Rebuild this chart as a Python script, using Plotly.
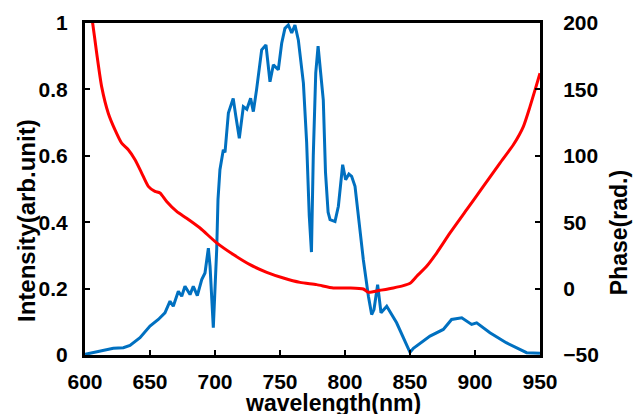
import plotly.graph_objects as go

# Intensity spectrum (blue, left axis)
blue_nm = [600, 611.5, 621.8, 629.5, 634.6, 642.3, 650, 656.4, 661.5, 665.4, 667.9, 671.8,
           674.4, 676.9, 680.8, 683.3, 686.4, 689.8, 692.3, 694.9, 696.2, 698.7, 701.3,
           702.3, 703.8, 706.4, 707.7, 710.3, 714, 716, 718.7, 721.8, 724.5, 727.4, 729.5,
           732, 735.9, 739.2, 742.3, 744.9, 748.7, 751.3, 753.8, 756.4, 759, 761.5, 764.1,
           768, 770.5, 772.5, 774.2, 775.6, 777.5, 779.3, 781, 783.3, 785, 787, 788.5,
           792.3, 794.9, 798.2, 800.5, 803, 805.1, 807.7, 811.5, 814.1, 818, 820.5, 822.3,
           825.1, 827.7, 832.1, 839.7, 850, 852.6, 865.4, 875.6, 882, 889.8, 897.4, 901.3,
           911.5, 924, 939.7, 950]
blue_int = [0.002, 0.011, 0.02, 0.022, 0.029, 0.052, 0.087, 0.107, 0.127, 0.162, 0.147, 0.192,
            0.177, 0.207, 0.182, 0.207, 0.179, 0.227, 0.247, 0.322, 0.267, 0.082, 0.317,
            0.468, 0.558, 0.618, 0.61, 0.729, 0.773, 0.72, 0.653, 0.748, 0.74, 0.773, 0.733,
            0.8, 0.919, 0.934, 0.823, 0.874, 0.859, 0.939, 0.984, 0.994, 0.97, 0.994, 0.949,
            0.819, 0.64, 0.42, 0.31, 0.6, 0.85, 0.93, 0.86, 0.768, 0.55, 0.43, 0.408,
            0.402, 0.448, 0.573, 0.528, 0.545, 0.538, 0.508, 0.377, 0.287, 0.177, 0.122, 0.137,
            0.212, 0.127, 0.147, 0.097, 0.008, 0.02, 0.057, 0.077, 0.107, 0.112, 0.092, 0.097,
            0.067, 0.037, 0.007, 0.005]

# Phase (red, right axis)
red_nm = [600, 605.9, 609, 612.8, 617.9, 623.1, 628.2, 633.3, 638.5, 643.6, 648.7, 653.8,
          657.7, 662.8, 670.5, 678.2, 688.5, 701.3, 714.1, 726.9, 739.8, 752.6, 765.4,
          778.2, 791, 803.8, 814.1, 818, 826.9, 837.2, 844.9, 850, 855.2, 862.8, 870.5,
          880.8, 893.6, 906.4, 919.2, 929.5, 937.2, 942.3, 946.2, 950]
red_phase = [235, 199.8, 177.2, 152.1, 132.1, 119.5, 109.5, 104.5, 97, 87, 77, 73.2,
             72, 65.6, 58.1, 53, 45.6, 34.4, 25.6, 18, 12.3, 8, 4.7,
             3, 0.5, 0.5, -0.3, -2.8, -1.3, 0.5, 2.2, 4, 9.3, 16.8, 26.8,
             41.9, 59.4, 76.9, 94.5, 108.3, 122, 137, 149.6, 162.2]

x_ticks = [600, 650, 700, 750, 800, 850, 900, 950]
y_ticks = [0, 0.2, 0.4, 0.6, 0.8, 1]
y_ticktext = ["0", "0.2", "0.4", "0.6", "0.8", "1"]
y2_ticks = [-50, 0, 50, 100, 150, 200]

FONT = "Arial, Liberation Sans, sans-serif"
tickfont = dict(family=FONT, size=21, color="black", weight="bold")

fig = go.Figure()
fig.add_trace(go.Scatter(x=blue_nm, y=blue_int, mode="lines",
                         line=dict(color="#0070C0", width=3), yaxis="y"))
fig.add_trace(go.Scatter(x=red_nm, y=red_phase, mode="lines",
                         line=dict(color="#FF0000", width=3, shape="spline", smoothing=0.6),
                         yaxis="y2"))

fig.update_layout(
    width=634, height=414,
    margin=dict(l=85, r=94, t=23, b=59),
    paper_bgcolor="white", plot_bgcolor="white",
    showlegend=False,
    xaxis=dict(range=[600, 950], tickvals=x_ticks, ticks="inside", ticklen=5, tickwidth=2,
               tickcolor="black", showline=True, linewidth=3, linecolor="black", mirror=True,
               showgrid=False, zeroline=False, tickfont=tickfont, ticklabelstandoff=6),
    yaxis=dict(range=[0, 1], tickvals=y_ticks, ticktext=y_ticktext, ticks="inside", ticklen=5,
               tickwidth=2, tickcolor="black", showline=True, linewidth=3, linecolor="black",
               showgrid=False, zeroline=False, tickfont=tickfont, ticklabelstandoff=10),
    yaxis2=dict(range=[-50, 200], tickvals=y2_ticks, overlaying="y", side="right",
                ticks="inside", ticklen=5, tickwidth=2, tickcolor="black", showline=True,
                linewidth=3, linecolor="black", showgrid=False, zeroline=False,
                tickfont=tickfont, ticklabelstandoff=16),
    annotations=[
        dict(text="wavelength(nm)", xref="paper", yref="paper", x=0.544, y=-0.145,
             xanchor="center", yanchor="middle", showarrow=False,
             font=dict(family=FONT, size=23, color="black", weight="bold")),
        dict(text="Intensity(arb.unit)", xref="paper", yref="paper", x=-0.1297, y=0.4066,
             xanchor="center", yanchor="middle", showarrow=False, textangle=-90,
             font=dict(family=FONT, size=24, color="black", weight="bold")),
        dict(text="Phase(rad.)", xref="paper", yref="paper", x=1.1736, y=0.37,
             xanchor="center", yanchor="middle", showarrow=False, textangle=-90,
             font=dict(family=FONT, size=23, color="black", weight="bold")),
    ],
)

fig.write_html("out.html")
